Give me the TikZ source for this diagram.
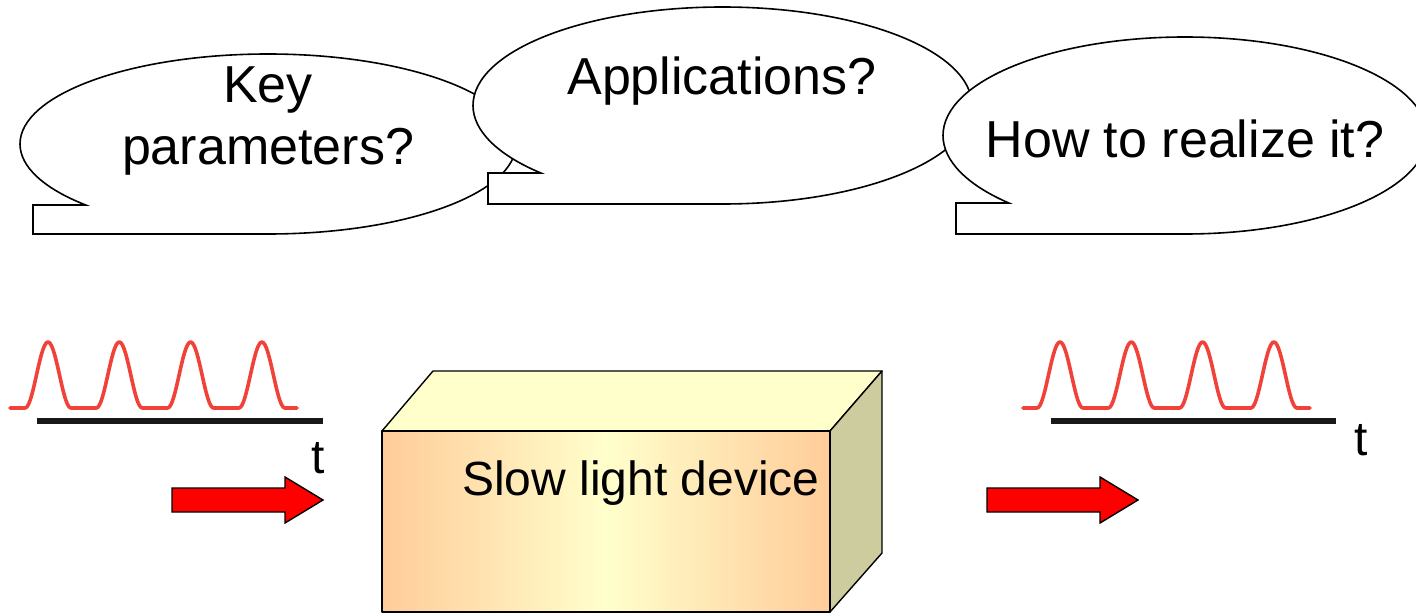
\documentclass[tikz,border=0pt]{standalone}
\usepackage{fontspec}
\setmainfont{Liberation Sans}
\definecolor{pulsered}{RGB}{240,66,56}
\definecolor{arrowred}{RGB}{255,0,0}
\definecolor{boxorange}{RGB}{255,204,153}
\definecolor{boxyellow}{RGB}{255,255,204}
\definecolor{boxside}{RGB}{204,204,158}
\begin{document}
\begin{tikzpicture}[x=1pt,y=1pt,
  callout/.style={draw=black,fill=white,line width=1.6pt,line join=miter},
  bubbletext/.style={font=\fontsize{52}{60}\selectfont,anchor=base,inner sep=0pt},
  smalltext/.style={font=\fontsize{48}{56}\selectfont,anchor=base,inner sep=0pt},
  pulse/.style={draw=pulsered,line width=3.6pt,line join=round,line cap=round},
  axisline/.style={draw=black!90,line width=6pt},
  bigarrow/.style={draw=black,fill=arrowred,line width=1.4pt,line join=miter},
  face/.style={draw=black,line width=1.4pt,line join=round}]
\useasboundingbox (0,0) rectangle (1416,614);
\clip (0,0) rectangle (1416,614);

% callouts
\draw[callout] (268,380) arc[start angle=-90,end angle=222.67,x radius=248pt,y radius=90pt]
   -- (33,409) -- (33,380) -- cycle;
\node[bubbletext] (key) at (268,511) {Key};
\node[bubbletext] (par) at (268,449) {parameters?};

\draw[callout] (722.5,410) arc[start angle=-90,end angle=223.25,x radius=249.5pt,y radius=98.5pt]
   -- (488,441) -- (488,410) -- cycle;
\node[bubbletext] (app) at (722,519) {Applications?};

\draw[callout] (1185,380) arc[start angle=-90,end angle=223.25,x radius=242pt,y radius=98.5pt]
   -- (956,411) -- (956,380) -- cycle;
\node[bubbletext] (how) at (1185,456) {How to realize it?};

% input pulses
\draw[axisline] (37,193) -- (323,193);
\draw[pulse] (10,206) foreach \c in {48,119.3,190.6,261.9} {
   -- ({\c-23},206) -- plot[domain=-23:23,samples=31] ({\c+\x},{206+33*(1+cos(360*\x/46))}) }
   -- (297,206);
\node[smalltext] (tin) at (318,141) {t};

% output pulses
\draw[axisline] (1051,193) -- (1336,193);
\draw[pulse] (1023,206) foreach \c in {1060,1131.3,1202.6,1273.9} {
   -- ({\c-23},206) -- plot[domain=-23:23,samples=31] ({\c+\x},{206+33*(1+cos(360*\x/46))}) }
   -- (1310,206);
\node[smalltext] (tout) at (1361,159) {t};

% arrows
\draw[bigarrow] (172,102) -- (285,102) -- (285,91) -- (323,114) -- (285,137) -- (285,126) -- (172,126) -- cycle;
\draw[bigarrow] (987,102) -- (1100,102) -- (1100,91) -- (1138,114) -- (1100,137) -- (1100,126) -- (987,126) -- cycle;

% device box
\path[face,fill=boxyellow] (382,183) -- (433,243) -- (882,243) -- (830,183) -- cycle;
\path[face,fill=boxside] (830,183) -- (882,243) -- (882,61) -- (830,2) -- cycle;
\path[face,left color=boxorange,right color=boxorange,middle color=boxyellow] (382,2) rectangle (830,183);
\node[smalltext] (dev) at (641,119) {Slow light device};
\end{tikzpicture}
\end{document}
